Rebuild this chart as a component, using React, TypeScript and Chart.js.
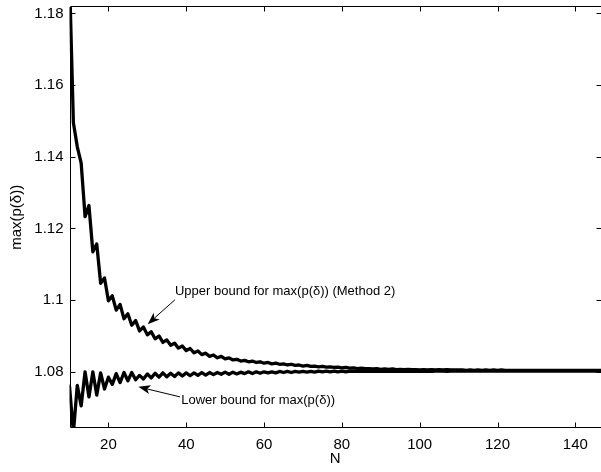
import React, { useEffect, useRef } from "react";
import { Chart, registerables } from "chart.js";

Chart.register(...registerables);

// N runs from 10 upward in steps of 1
const nStart = 10;

const upperBound: number[] = [
  1.1900, 1.1495, 1.1428, 1.1382, 1.1233, 1.1264, 1.1135, 1.1157, 1.1047, 1.1062, // 10-19
  1.0998, 1.1012, 1.0972, 1.0988, 1.0948, 1.0962, 1.0930, 1.0943, 1.0914, 1.0925, // 20-29
  1.0903, 1.0912, 1.0892, 1.0900, 1.0882, 1.0889, 1.0874, 1.0880, 1.0866, 1.0872, // 30-39
  1.0859, 1.0865, 1.0853, 1.0858, 1.0848, 1.0852, 1.0843, 1.0847, 1.0839, 1.0843, // 40-49
  1.0836, 1.0839, 1.0833, 1.0835, 1.0830, 1.0832, 1.0828, 1.0830, 1.0826, 1.0828, // 50-59
  1.0824, 1.0826, 1.0822, 1.0824, 1.0821, 1.0822, 1.0819, 1.0821, 1.0818, 1.0819, // 60-69
  1.0816, 1.0818, 1.0815, 1.0816, 1.0814, 1.0815, 1.0813, 1.0814, 1.0812, 1.0813, // 70-79
  1.0811, 1.0812, 1.0810, 1.0811, 1.0809, 1.0810, 1.0809, 1.0809, 1.0808, 1.0809, // 80-89
  1.0807, 1.0808, 1.0807, 1.0808, 1.0806, 1.0807, 1.0806, 1.0807, 1.0806, 1.0806, // 90-99
  1.0805, 1.0806, 1.0805, 1.0806, 1.0805, 1.0806, 1.0805, 1.0806, 1.0805, 1.0805, // 100-109
  1.0805, 1.0805, 1.0804, 1.0805, 1.0804, 1.0805, 1.0804, 1.0805, 1.0804, 1.0805, // 110-119
  1.0804, 1.0805, 1.0804, 1.0804, 1.0804, 1.0804, 1.0804, 1.0804, 1.0804, 1.0804, // 120-129
  1.0804, 1.0804, 1.0804, 1.0804, 1.0804, 1.0804, 1.0804, 1.0804, 1.0804, 1.0804, // 130-139
  1.0804, 1.0804, 1.0804, 1.0804, 1.0804, 1.0804, 1.0804, 1.0804,                 // 140-147
];

const lowerBound: number[] = [
  1.0760, 1.0630, 1.0762, 1.0705, 1.0800, 1.0730, 1.0800, 1.0735, 1.0797, 1.0752, // 10-19
  1.0785, 1.0765, 1.0795, 1.0770, 1.0798, 1.0775, 1.0798, 1.0778, 1.0790, 1.0780, // 20-29
  1.0794, 1.0783, 1.0796, 1.0785, 1.0797, 1.0786, 1.0796, 1.0787, 1.0797, 1.0788, // 30-39
  1.0797, 1.0789, 1.0797, 1.0790, 1.0798, 1.0791, 1.0798, 1.0792, 1.0798, 1.0793, // 40-49
  1.0799, 1.0793, 1.0799, 1.0794, 1.0799, 1.0795, 1.0800, 1.0795, 1.0800, 1.0796, // 50-59
  1.0800, 1.0797, 1.0800, 1.0797, 1.0801, 1.0798, 1.0801, 1.0798, 1.0801, 1.0799, // 60-69
  1.0801, 1.0799, 1.0801, 1.0799, 1.0802, 1.0800, 1.0802, 1.0800, 1.0802, 1.0800, // 70-79
  1.0802, 1.0800, 1.0802, 1.0801, 1.0802, 1.0801, 1.0802, 1.0801, 1.0802, 1.0801, // 80-89
  1.0802, 1.0801, 1.0802, 1.0801, 1.0802, 1.0801, 1.0802, 1.0801, 1.0802, 1.0801, // 90-99
  1.0802, 1.0801, 1.0802, 1.0801, 1.0802, 1.0802, 1.0802, 1.0801, 1.0802, 1.0802, // 100-109
  1.0802, 1.0802, 1.0802, 1.0802, 1.0802, 1.0802, 1.0802, 1.0802, 1.0802, 1.0802, // 110-119
  1.0802, 1.0802, 1.0802, 1.0802, 1.0802, 1.0802, 1.0802, 1.0802, 1.0802, 1.0802, // 120-129
  1.0802, 1.0802, 1.0802, 1.0802, 1.0802, 1.0802, 1.0802, 1.0802, 1.0802, 1.0802, // 130-139
  1.0802, 1.0802, 1.0802, 1.0802, 1.0802, 1.0802, 1.0802, 1.0802,                 // 140-147
];

const xTickValues: number[] = [20, 40, 60, 80, 100, 120, 140];
const xTickLabels: string[] = ["20", "40", "60", "80", "100", "120", "140"];
const yTickValues: number[] = [1.08, 1.1, 1.12, 1.14, 1.16, 1.18];
const yTickLabels: string[] = ["1.08", "1.1", "1.12", "1.14", "1.16", "1.18"];

const xMin = 10;
const xMax = 146.6;
const yMin = 1.0644;
const yMax = 1.1818;

const xTitle = "N";
const yTitle = "max(p(δ))";

const upperText = "Upper bound for max(p(δ)) (Method 2)";
const lowerText = "Lower bound for max(p(δ))";
// annotation anchor points in data coordinates: [N, value]
const upperTextAt: [number, number] = [37.1, 1.1015];
const upperArrowFrom: [number, number] = [37.1, 1.1001];
const upperArrowTo: [number, number] = [30.1, 1.0933];
const lowerTextAt: [number, number] = [38.7, 1.0710];
const lowerArrowFrom: [number, number] = [38.4, 1.0730];
const lowerArrowTo: [number, number] = [27.7, 1.0758];

const FONT = "'Liberation Sans', Arial, Helvetica, sans-serif";
const INK = "#000000";

function drawArrow(ctx: CanvasRenderingContext2D, x1: number, y1: number, x2: number, y2: number) {
  const ang = Math.atan2(y2 - y1, x2 - x1);
  const len = 12;
  const half = 4.5;
  const notch = 9;
  const cos = Math.cos(ang);
  const sin = Math.sin(ang);
  const bx = x2 - notch * cos;
  const by = y2 - notch * sin;
  ctx.beginPath();
  ctx.moveTo(x1, y1);
  ctx.lineTo(bx, by);
  ctx.lineWidth = 1;
  ctx.strokeStyle = INK;
  ctx.stroke();
  const px = x2 - len * cos;
  const py = y2 - len * sin;
  ctx.beginPath();
  ctx.moveTo(x2, y2);
  ctx.lineTo(px - half * sin, py + half * cos);
  ctx.lineTo(bx, by);
  ctx.lineTo(px + half * sin, py - half * cos);
  ctx.closePath();
  ctx.fillStyle = INK;
  ctx.fill();
}

const framePlugin = {
  id: "matlabFrame",
  afterDatasetsDraw(chart: any) {
    const { ctx, chartArea, scales } = chart;
    const xs = scales.x;
    const ys = scales.y;
    const L = Math.round(chartArea.left) + 0.5;
    const R = Math.round(chartArea.right) + 0.5;
    const T = Math.round(chartArea.top) - 0.5;
    const B = Math.round(chartArea.bottom) - 0.5;
    ctx.save();
    ctx.strokeStyle = INK;
    ctx.lineWidth = 1;
    ctx.beginPath();
    ctx.moveTo(L, T);
    ctx.lineTo(R, T);
    ctx.lineTo(R, B);
    ctx.lineTo(L, B);
    ctx.closePath();
    ctx.stroke();
    const tl = 5;
    ctx.beginPath();
    for (const v of xTickValues) {
      const px = Math.round(xs.getPixelForValue(v)) + 0.5;
      ctx.moveTo(px, B);
      ctx.lineTo(px, B - tl);
      ctx.moveTo(px, T);
      ctx.lineTo(px, T + tl);
    }
    for (const v of yTickValues) {
      const py = Math.round(ys.getPixelForValue(v)) + 0.5;
      ctx.moveTo(L, py);
      ctx.lineTo(L + tl, py);
      ctx.moveTo(R, py);
      ctx.lineTo(R - tl, py);
    }
    ctx.stroke();

    // annotations
    ctx.font = `13px ${FONT}`;
    ctx.fillStyle = INK;
    ctx.textAlign = "left";
    ctx.textBaseline = "alphabetic";
    ctx.fillText(upperText, xs.getPixelForValue(upperTextAt[0]), ys.getPixelForValue(upperTextAt[1]));
    ctx.fillText(lowerText, xs.getPixelForValue(lowerTextAt[0]), ys.getPixelForValue(lowerTextAt[1]));
    drawArrow(
      ctx,
      xs.getPixelForValue(upperArrowFrom[0]), ys.getPixelForValue(upperArrowFrom[1]),
      xs.getPixelForValue(upperArrowTo[0]), ys.getPixelForValue(upperArrowTo[1])
    );
    drawArrow(
      ctx,
      xs.getPixelForValue(lowerArrowFrom[0]), ys.getPixelForValue(lowerArrowFrom[1]),
      xs.getPixelForValue(lowerArrowTo[0]), ys.getPixelForValue(lowerArrowTo[1])
    );
    ctx.restore();
  },
};

export default function App() {
  const canvasRef = useRef<HTMLCanvasElement | null>(null);

  useEffect(() => {
    const canvas = canvasRef.current;
    if (!canvas) return;
    const toPoints = (arr: number[]) => arr.map((v, i) => ({ x: nStart + i, y: v }));
    const lineStyle = {
      borderColor: INK,
      borderWidth: 3.3,
      pointRadius: 0,
      tension: 0,
      fill: false,
      borderJoinStyle: "round",
      borderCapStyle: "round",
      clip: 0,
    };
    const chart = new Chart(canvas, {
      type: "line",
      data: {
        datasets: [
          { label: "Upper bound", data: toPoints(upperBound), ...lineStyle },
          { label: "Lower bound", data: toPoints(lowerBound), ...lineStyle },
        ],
      },
      options: {
        animation: false,
        responsive: false,
        devicePixelRatio: 1,
        layout: { padding: { top: 7, right: 0, bottom: 0, left: 0 } },
        plugins: {
          legend: { display: false },
          tooltip: { enabled: false },
          title: { display: false },
        },
        scales: {
          x: {
            type: "linear",
            min: xMin,
            max: xMax,
            grid: { display: false, drawTicks: false },
            border: { display: false },
            afterBuildTicks: (scale: any) => {
              scale.ticks = xTickValues.map((v) => ({ value: v }));
            },
            afterFit: (scale: any) => {
              scale.height = 44.3;
              scale.paddingLeft = 0;
              scale.paddingRight = 0;
            },
            ticks: {
              padding: 8,
              color: INK,
              font: { family: FONT, size: 15 },
              maxRotation: 0,
              autoSkip: false,
              callback: (value: any) => {
                const i = xTickValues.indexOf(Number(value));
                return i >= 0 ? xTickLabels[i] : "";
              },
            },
            title: {
              display: true,
              text: xTitle,
              color: INK,
              font: { family: FONT, size: 15 },
              padding: { top: 0, bottom: 4 },
            },
          },
          y: {
            type: "linear",
            min: yMin,
            max: yMax,
            grid: { display: false, drawTicks: false },
            border: { display: false },
            afterBuildTicks: (scale: any) => {
              scale.ticks = yTickValues.map((v) => ({ value: v }));
            },
            afterFit: (scale: any) => {
              scale.width = 69.5;
              scale.paddingTop = 0;
              scale.paddingBottom = 0;
            },
            ticks: {
              padding: 6,
              color: INK,
              font: { family: FONT, size: 15 },
              autoSkip: false,
              callback: (value: any) => {
                let best = 0;
                for (let i = 0; i < yTickValues.length; i++) {
                  if (Math.abs(yTickValues[i] - Number(value)) < Math.abs(yTickValues[best] - Number(value))) best = i;
                }
                return yTickLabels[best];
              },
            },
            title: {
              display: true,
              text: yTitle,
              color: INK,
              font: { family: FONT, size: 15 },
              padding: { top: 8, bottom: 0 },
            },
          },
        },
      },
      plugins: [framePlugin],
    } as any);
    return () => chart.destroy();
  }, []);

  return (
    <div style={{ position: "fixed", left: 0, top: 0, width: 601, height: 472, background: "#fff" }}>
      <canvas ref={canvasRef} width={601} height={472} style={{ width: 601, height: 472, display: "block" }} />
    </div>
  );
}
